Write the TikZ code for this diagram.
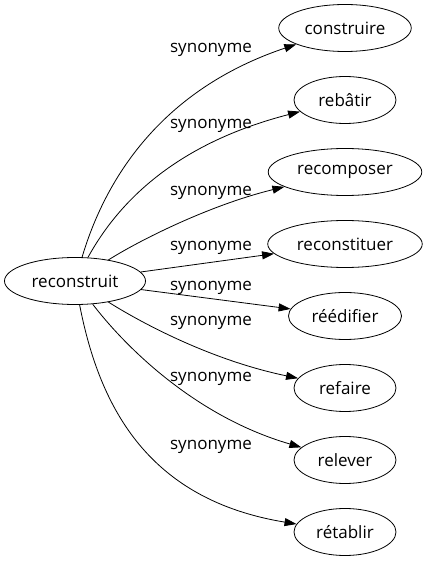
\documentclass[tikz,border=0pt]{standalone}
\usepackage{fontspec}
\setmainfont{Open Sans}
\usetikzlibrary{shapes.geometric,arrows.meta}
\begin{document}
\begin{tikzpicture}[x=1pt,y=1pt]
	\tikzstyle{word_style} = [ellipse,draw=black,line width=0.8pt,inner xsep=6.5pt,inner ysep=1pt,minimum width=102pt,minimum height=47pt,font=\fontsize{17}{20}\selectfont]
	\tikzstyle{edge_style} = [draw=black,line width=0.8pt,-{Triangle[length=12pt,width=8pt]}]
	\tikzstyle{label_style} = [inner sep=0pt,font=\fontsize{17}{20}\selectfont]
	\useasboundingbox (0,0) rectangle (426,563);
	\node[word_style] (w0) at (75,282) {reconstruit};
	\node[word_style] (w1) at (345,535) {construire};
	\node[word_style] (w2) at (345,463) {rebâtir};
	\node[word_style] (w3) at (345,391) {recomposer};
	\node[word_style] (w4) at (345,319) {reconstituer};
	\node[word_style] (w5) at (345,247) {réédifier};
	\node[word_style] (w6) at (345,175) {refaire};
	\node[word_style] (w7) at (345,103) {relever};
	\node[word_style] (w8) at (345,31) {rétablir};
	\node[label_style] (l1) at (211,513) {synonyme};
	\node[label_style] (l2) at (211,437) {synonyme};
	\node[label_style] (l3) at (211,370) {synonyme};
	\node[label_style] (l4) at (211,315) {synonyme};
	\node[label_style] (l5) at (211,275) {synonyme};
	\node[label_style] (l6) at (211,240) {synonyme};
	\node[label_style] (l7) at (211,184) {synonyme};
	\node[label_style] (l8) at (211,116) {synonyme};
	\draw[edge_style] (w0) .. controls (105,383) and (160,473) .. (w1);
	\draw[edge_style] (w0) .. controls (125,373) and (190,423) .. (w2);
	\draw[edge_style] (w0) .. controls (140,323) and (210,358) .. (w3);
	\draw[edge_style] (w0) -- (w4);
	\draw[edge_style] (w0) -- (w5);
	\draw[edge_style] (w0) .. controls (140,241) and (210,203) .. (w6);
	\draw[edge_style] (w0) .. controls (120,223) and (190,148) .. (w7);
	\draw[edge_style] (w0) .. controls (100,153) and (150,63) .. (w8);
\end{tikzpicture}
\end{document}
